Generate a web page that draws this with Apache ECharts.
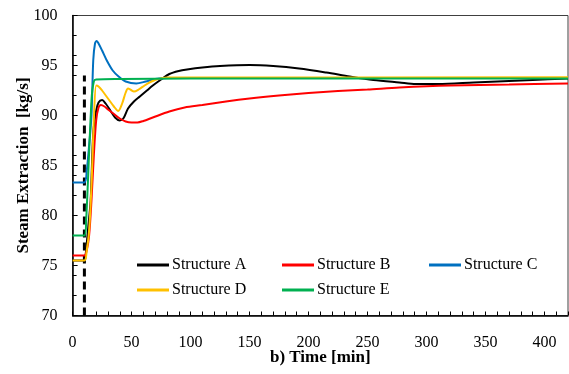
<!DOCTYPE html>
<html>
<head>
<meta charset="utf-8">
<script src="https://cdn.jsdelivr.net/npm/echarts@6/dist/echarts.min.js"></script>
<style>
  html, body { margin: 0; padding: 0; background: #fff; }
  #chart { width: 569px; height: 374px; }
</style>
</head>
<body>
<div id="chart"></div>
<script>
// data
const names = ["Structure A", "Structure B", "Structure C", "Structure D", "Structure E"];
const colors = ["#000000", "#FF0000", "#0070C0", "#FFC000", "#00B050"];

const timeA = [0, 10, 11, 13.3, 15.3, 17.5, 20, 22, 25, 28, 32, 36, 40, 43, 47, 52, 57, 63, 68, 75, 82, 90, 97, 110, 125, 150, 170, 192, 215, 235, 255, 277, 291, 310, 340, 370, 390, 420];
const valA = [75.5, 75.5, 76, 78.9, 81.5, 88.2, 90.5, 91.3, 91.55, 91.2, 90.5, 89.8, 89.5, 89.7, 90.7, 91.4, 91.9, 92.5, 93.0, 93.6, 94.15, 94.45, 94.6, 94.8, 94.95, 95.05, 94.95, 94.7, 94.3, 93.9, 93.55, 93.3, 93.15, 93.15, 93.3, 93.45, 93.55, 93.7];

const timeB = [0, 10, 12, 14, 16, 18, 20, 22, 24, 27, 30, 34, 40, 45, 50, 55, 60, 68, 82, 95, 110, 130, 150, 175, 200, 225, 250, 277, 320, 370, 420];
const valB = [76, 76, 76.5, 78, 81.5, 86, 89.5, 90.8, 91.05, 90.9, 90.6, 90.25, 89.7, 89.4, 89.3, 89.3, 89.45, 89.8, 90.4, 90.8, 91.05, 91.4, 91.7, 92.0, 92.25, 92.45, 92.6, 92.8, 93.0, 93.1, 93.2];

const timeC = [0, 10, 12, 14, 16, 17.5, 19, 20.5, 22, 25, 29, 34, 39, 45, 54, 62, 70, 80, 120, 420];
const valC = [83.3, 83.3, 84.5, 87, 90, 95.5, 97.2, 97.45, 97.2, 96.5, 95.5, 94.5, 93.9, 93.4, 93.2, 93.4, 93.65, 93.75, 93.75, 93.75];

const timeD = [0, 10, 12, 14, 16, 18, 20, 22, 25, 30, 35, 38.7, 42, 45, 47, 49.5, 52, 56, 61, 66, 71, 80, 100, 420];
const valD = [75.5, 75.5, 76.5, 78.5, 83, 89.5, 93.0, 92.9, 92.5, 91.7, 90.9, 90.45, 91.2, 92.3, 92.7, 92.55, 92.4, 92.6, 93.0, 93.35, 93.6, 93.8, 93.8, 93.82];

const timeE = [0, 10, 11.5, 16, 18, 20, 40, 100, 420];
const valE = [78, 78, 79.5, 91.5, 93.4, 93.6, 93.65, 93.7, 93.7];

const stepTime = [10, 10];
const stepVal = [70, 94];

const xTicks = [0, 420, 50];
const yTicks = [70, 100, 5];

const times = [timeA, timeB, timeC, timeD, timeE];
const vals = [valA, valB, valC, valD, valE];

const font = "Liberation Serif";
const chart = echarts.init(document.getElementById("chart"));

const lineSeries = names.map((n, i) => ({
  name: n,
  type: "line",
  data: times[i].map((t, k) => [t, vals[i][k]]),
  smooth: 0.3,
  symbol: "none",
  lineStyle: { color: colors[i], width: 2 },
  itemStyle: { color: colors[i] },
  z: 3 + i
}));

chart.setOption({
  animation: false,
  grid: {
    left: 72.6, right: 1, top: 15.5, bottom: 58.5,
    show: true, borderColor: "#404040", borderWidth: 1
  },
  legend: [
    { data: [names[0], names[3]], left: 137 },
    { data: [names[1], names[4]], left: 282 },
    { data: [names[2]], left: 429 }
  ].map(l => Object.assign(l, {
    top: 257, orient: "vertical", padding: 0,
    icon: "rect", itemWidth: 32, itemHeight: 3, itemGap: 9,
    textStyle: { fontFamily: font, fontSize: 16, color: "#000", padding: [0, 0, 0, -2] }
  })),
  xAxis: {
    type: "value",
    min: xTicks[0], max: xTicks[1], interval: xTicks[2],
    name: "b) Time [min]", nameLocation: "middle", nameGap: 34,
    nameMoveOverlap: false,
    nameTextStyle: { fontFamily: font, fontSize: 17, fontWeight: "bold", color: "#000" },
    axisLine: { lineStyle: { color: "#000", width: 1.5 } },
    axisTick: { inside: true, length: 4, lineStyle: { color: "#000" } },
    minorTick: { show: true, splitNumber: 5, length: 4, lineStyle: { color: "#000" } },
    axisLabel: { fontFamily: font, fontSize: 16, color: "#000", margin: 19, showMaxLabel: false },
    splitLine: { show: false }
  },
  yAxis: [{
    type: "value",
    min: yTicks[0], max: yTicks[1], interval: yTicks[2],
    name: "Steam Extraction  [kg/s]", nameLocation: "middle", nameGap: 40,
    nameMoveOverlap: false,
    nameTextStyle: { fontFamily: font, fontSize: 17, fontWeight: "bold", color: "#000" },
    axisLine: { show: true, lineStyle: { color: "#000", width: 1.5 } },
    axisTick: { show: true, inside: true, length: 5, lineStyle: { color: "#000" } },
    axisLabel: { fontFamily: font, fontSize: 16, color: "#000", margin: 15 },
    splitLine: { show: false }
  }, {
    type: "value",
    min: 70, max: 100, interval: 2,
    position: "left",
    axisLine: { show: false },
    axisTick: { show: true, inside: true, length: 4, lineStyle: { color: "#000" } },
    axisLabel: { show: false },
    splitLine: { show: false }
  }],
  series: lineSeries.concat([{
    name: "step",
    type: "line",
    data: stepTime.map((t, k) => [t, stepVal[k]]),
    symbol: "none",
    lineStyle: { color: "#000", width: 3, type: [8, 5] },
    z: 2
  }])
});
</script>
</body>
</html>
